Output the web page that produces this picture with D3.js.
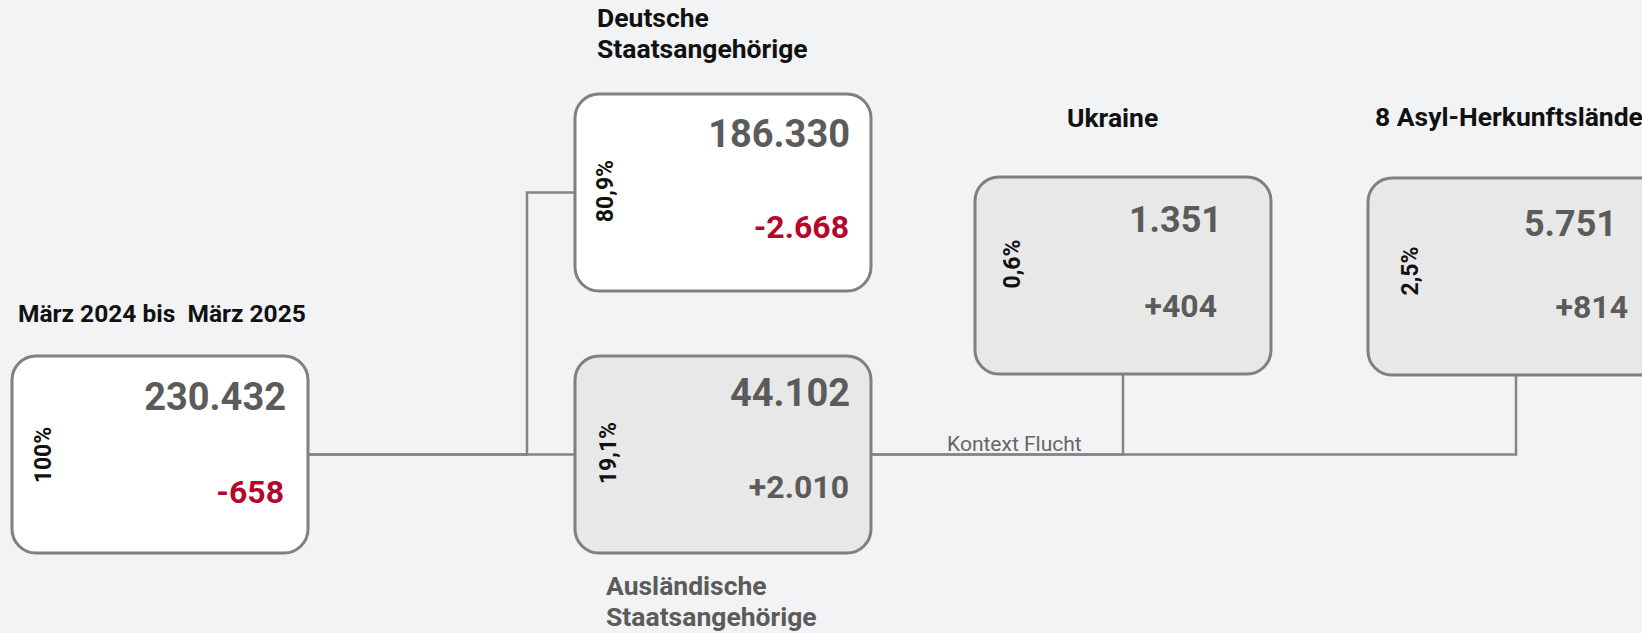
<!DOCTYPE html>
<html>
<head>
<meta charset="utf-8">
<script src="https://cdn.jsdelivr.net/npm/d3@7"></script>
<style>
  html, body { margin: 0; padding: 0; background: #f2f3f5; overflow: hidden; }
  text { font-family: Roboto, "Noto Sans", sans-serif; }
  .link { fill: none; stroke: #858585; stroke-width: 2.5px; }
  .box { stroke: #808080; stroke-width: 3px; }
</style>
</head>
<body>
<div id="chart"></div>
<script>
const width = 1642;
const height = 633;

// data
const ids = ["gesamt", "deutsch", "auslaendisch", "ukraine", "asyl"];
const parentIds = [null, "gesamt", "gesamt", "auslaendisch", "auslaendisch"];
const titles = [
    ["März 2024 bis  März 2025"],
    ["Deutsche", "Staatsangehörige"],
    ["Ausländische", "Staatsangehörige"],
    ["Ukraine"],
    ["8 Asyl-Herkunftsländer"]
];
const totals = [230432, 186330, 44102, 1351, 5751];
const changes = [-658, -2668, 2010, 404, 814];
const shares = [100, 80.9, 19.1, 0.6, 2.5];
const linkLabel = "Kontext Flucht";

// layout (positions of the boxes and their texts)
const boxW = 296, boxH = 197, radius = 24;
const layout = {
    gesamt:       { x: 12,   y: 356, fill: "#ffffff", totalR: 274, totalY: 54, changeR: 272, changeY: 147, shareX: 39, shareY: 99, totalSize: 38,
                    titleX: 6, titleY: -34, titleColor: "#111", titleSize: 24.5 },
    deutsch:      { x: 575,  y: 94,  fill: "#ffffff", totalR: 275, totalY: 53, changeR: 274, changeY: 144, shareX: 38, shareY: 97, totalSize: 38,
                    titleX: 22, titleY: -67, titleColor: "#111", titleSize: 26.5 },
    auslaendisch: { x: 575,  y: 356, fill: "#e8e8e8", totalR: 275, totalY: 50, changeR: 274, changeY: 142, shareX: 41, shareY: 97, totalSize: 38,
                    titleX: 31, titleY: 239, titleColor: "#5b5b5b", titleSize: 26.5 },
    ukraine:      { x: 975,  y: 177, fill: "#e8e8e8", totalR: 247, totalY: 55, changeR: 242, changeY: 140, shareX: 45, shareY: 87, totalSize: 36,
                    titleX: 92, titleY: -50, titleColor: "#111", titleSize: 26.5 },
    asyl:         { x: 1368, y: 178, fill: "#e8e8e8", totalR: 249, totalY: 58, changeR: 260, changeY: 140, shareX: 50, shareY: 93, totalSize: 36,
                    titleX: 7, titleY: -52, titleColor: "#111", titleSize: 26.5 }
};
const elbowGap = 48;

const de = d3.formatLocale({ decimal: ",", thousands: ".", grouping: [3], currency: ["", " €"], minus: "-" });
const fmtTotal = de.format(",d");
const fmtChange = de.format("+,d");
const fmtShare = v => v === 100 ? "100%" : de.format(".1f")(v) + "%";

const table = ids.map((id, i) => ({
    id, parent: parentIds[i], title: titles[i],
    total: totals[i], change: changes[i], share: shares[i]
}));

const root = d3.stratify().id(d => d.id).parentId(d => d.parent)(table);
root.each(d => {
    const l = layout[d.id];
    d.bx = l.x; d.by = l.y; d.l = l;
});

const svg = d3.select("#chart").append("svg")
    .attr("width", width)
    .attr("height", height);

// connector lines
function linkPath(l) {
    const s = l.source, t = l.target;
    const sx = s.bx + boxW, sy = s.by + boxH / 2;
    if (s.depth === 0) {
        const mx = t.bx - elbowGap;
        return `M${sx},${sy}H${mx}V${t.by + boxH / 2}H${t.bx}`;
    }
    return `M${sx},${sy}H${t.bx + boxW / 2}V${t.by + boxH}`;
}

svg.append("g")
    .selectAll("path")
    .data(root.links())
    .join("path")
    .attr("class", "link")
    .attr("d", linkPath);

// "Kontext Flucht" on the line out of the foreign nationals box
const fluchtNode = root.find(d => d.id === "auslaendisch");
svg.append("text")
    .attr("x", fluchtNode.bx + boxW + 76)
    .attr("y", fluchtNode.by + boxH / 2 - 4)
    .style("font-size", "21px")
    .style("fill", "#666")
    .text(linkLabel);

const node = svg.append("g")
    .selectAll("g")
    .data(root.descendants())
    .join("g")
    .attr("transform", d => `translate(${d.bx},${d.by})`);

node.append("rect")
    .attr("class", "box")
    .attr("width", boxW)
    .attr("height", boxH)
    .attr("rx", radius)
    .attr("fill", d => d.l.fill);

node.append("text")
    .attr("x", d => d.l.totalR)
    .attr("y", d => d.l.totalY)
    .attr("text-anchor", "end")
    .style("font-size", d => d.l.totalSize + "px")
    .style("font-weight", "bold")
    .style("fill", "#5b5b5b")
    .text(d => fmtTotal(d.data.total));

node.append("text")
    .attr("x", d => d.l.changeR)
    .attr("y", d => d.l.changeY)
    .attr("text-anchor", "end")
    .style("font-size", "32px")
    .style("font-weight", "bold")
    .style("fill", d => d.data.change < 0 ? "#b3082c" : "#5b5b5b")
    .text(d => fmtChange(d.data.change));

node.append("text")
    .attr("transform", d => `translate(${d.l.shareX},${d.l.shareY}) rotate(-90)`)
    .attr("text-anchor", "middle")
    .style("font-size", "23px")
    .style("font-weight", "bold")
    .style("fill", "#111")
    .text(d => fmtShare(d.data.share));

// titles above / below the boxes
node.append("text")
    .attr("x", d => d.l.titleX)
    .attr("y", d => d.l.titleY)
    .style("font-size", d => d.l.titleSize + "px")
    .style("font-weight", "bold")
    .style("white-space", "pre")
    .style("fill", d => d.l.titleColor)
    .selectAll("tspan")
    .data(d => d.data.title.map((t, i) => ({ t, i, x: d.l.titleX })))
    .join("tspan")
    .attr("x", t => t.x)
    .attr("dy", t => t.i === 0 ? 0 : 31)
    .text(t => t.t);
</script>
</body>
</html>
